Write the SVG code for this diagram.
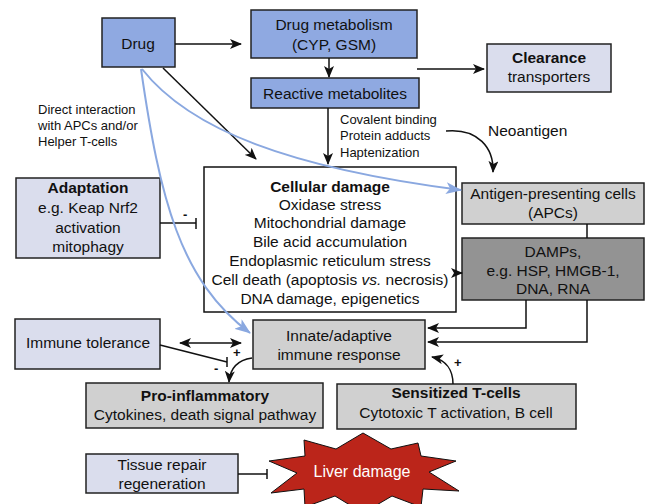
<svg xmlns="http://www.w3.org/2000/svg" width="648" height="504" viewBox="0 0 648 504">
<defs>
<style>
text{font-family:"Liberation Sans",Arial,sans-serif;fill:#111;}
.t{font-size:15.5px;text-anchor:middle;}
.s{font-size:13px;}
.b{font-weight:bold;}
.box{stroke:#222;stroke-width:1.5;}
.blue{fill:#8fa9e1;}
.lav{fill:#dadded;}
.gray{fill:#d0d0d0;}
.dark{fill:#939393;}
.ln{fill:none;stroke:#111;stroke-width:1.5;}
.bl{fill:none;stroke:#8aa8e0;stroke-width:2;}
</style>
<marker id="ah" markerUnits="userSpaceOnUse" markerWidth="12" markerHeight="10" refX="11" refY="5" orient="auto-start-reverse" viewBox="0 0 12 10">
<path d="M0,0 L12,5 L0,10 L3,5 Z" fill="#111"/>
</marker>
<marker id="bh" markerUnits="userSpaceOnUse" markerWidth="16" markerHeight="12" refX="15" refY="6" orient="auto" viewBox="0 0 16 12">
<path d="M0,0 L16,6 L0,12 L4,6 Z" fill="#8aa8e0"/>
</marker>
</defs>
<rect width="648" height="504" fill="#fff"/>

<g id="drug">
<rect class="box blue" x="102" y="18" width="73" height="49"/>
<text class="t" x="138" y="49">Drug</text>
</g>
<g id="metabolism">
<rect class="box blue" x="251" y="10" width="166" height="48"/>
<text class="t" x="334" y="30">Drug metabolism</text>
<text class="t" x="334" y="50">(CYP, GSM)</text>
</g>
<g id="reactive">
<rect class="box blue" x="251" y="78" width="168" height="30"/>
<text class="t" x="335" y="99">Reactive metabolites</text>
</g>
<g id="clearance">
<rect class="box lav" x="487" y="44" width="124" height="48"/>
<text class="t b" x="549" y="63">Clearance</text>
<text class="t" x="549" y="82">transporters</text>
</g>
<g id="cellular">
<rect x="204" y="167" width="252" height="145" fill="#fff" stroke="#111" stroke-width="1.5"/>
<text class="t b" x="330" y="192">Cellular damage</text>
<text class="t" x="330" y="210">Oxidase stress</text>
<text class="t" x="330" y="228">Mitochondrial damage</text>
<text class="t" x="330" y="247">Bile acid accumulation</text>
<text class="t" x="330" y="266">Endoplasmic reticulum stress</text>
<text class="t" x="330" y="285">Cell death (apoptosis <tspan font-style="italic">vs.</tspan> necrosis)</text>
<text class="t" x="330" y="304">DNA damage, epigenetics</text>
</g>
<g id="adaptation">
<rect class="box lav" x="16" y="178" width="144" height="80"/>
<text class="t b" x="88" y="193">Adaptation</text>
<text class="t" x="88" y="213">e.g. Keap Nrf2</text>
<text class="t" x="88" y="233">activation</text>
<text class="t" x="88" y="252">mitophagy</text>
</g>
<g id="apcs">
<rect class="box gray" x="462" y="183" width="182" height="41"/>
<text class="t" x="553" y="199">Antigen-presenting cells</text>
<text class="t" x="553" y="218">(APCs)</text>
</g>
<g id="damps">
<rect class="box dark" x="462" y="238" width="182" height="62"/>
<text class="t" x="553" y="257">DAMPs,</text>
<text class="t" x="553" y="276">e.g. HSP, HMGB-1,</text>
<text class="t" x="553" y="294">DNA, RNA</text>
</g>
<g id="innate">
<rect class="box gray" x="253" y="320" width="172" height="49"/>
<text class="t" x="339" y="341">Innate/adaptive</text>
<text class="t" x="339" y="360">immune response</text>
</g>
<g id="tolerance">
<rect class="box lav" x="15" y="319" width="145" height="50"/>
<text class="t" x="88" y="348">Immune tolerance</text>
</g>
<g id="proinflammatory">
<rect class="box gray" x="86" y="383" width="237" height="45"/>
<text class="t b" x="205" y="401">Pro-inflammatory</text>
<text class="t" x="205" y="420">Cytokines, death signal pathway</text>
</g>
<g id="sensitized">
<rect class="box gray" x="337" y="384" width="239" height="45"/>
<text class="t b" x="456" y="398">Sensitized T-cells</text>
<text class="t" x="456" y="418">Cytotoxic T activation, B cell</text>
</g>
<g id="tissue">
<rect class="box lav" x="86" y="454" width="152" height="39"/>
<text class="t" x="162" y="470">Tissue repair</text>
<text class="t" x="162" y="489">regeneration</text>
</g>
<g id="liver">
<polygon points="363,433 391,449 418,443 421,456 456,461 429,472 459,491 423,489 421,507 392,496 363,513 335,496 305,507 304,489 271,493 297,473 269,461 305,456 304,440 336,449" fill="#bb251a" stroke="#111" stroke-width="1"/>
<text class="t" x="362" y="477" style="fill:#fff;font-size:16px;">Liver damage</text>
</g>

<g id="connectors">
<line class="ln" x1="175" y1="44" x2="241" y2="44" marker-end="url(#ah)"/>
<line class="ln" x1="329" y1="58" x2="329" y2="77" marker-end="url(#ah)"/>
<line class="ln" x1="417" y1="69" x2="484" y2="69" marker-end="url(#ah)"/>
<line class="ln" x1="328" y1="108" x2="328" y2="164" marker-end="url(#ah)"/>
<line class="ln" x1="163" y1="68" x2="256" y2="159" marker-end="url(#ah)"/>
<path class="ln" d="M446,131 C478,128 494,148 493,172" marker-end="url(#ah)"/>
<line class="ln" x1="160" y1="223" x2="196" y2="223"/>
<line class="ln" x1="196" y1="218" x2="196" y2="229"/>
<line class="ln" x1="456" y1="273" x2="462" y2="273" marker-end="url(#ah)"/>
<line class="ln" x1="587" y1="224" x2="587" y2="238"/>
<path class="ln" d="M526,300 V328 H428" marker-end="url(#ah)"/>
<path class="ln" d="M587,300 V342 H428" marker-end="url(#ah)"/>
<line class="ln" x1="180" y1="343" x2="241" y2="343" marker-start="url(#ah)" marker-end="url(#ah)"/>
<line class="ln" x1="160" y1="345" x2="227" y2="362"/>
<line class="ln" x1="227" y1="357" x2="227" y2="367"/>
<path class="ln" d="M252,358 C238,360 230,368 229,382" marker-end="url(#ah)"/>
<path class="ln" d="M453,384 C453,370 446,360 432,357" marker-end="url(#ah)"/>
<line class="ln" x1="238" y1="474" x2="267" y2="474"/>
<line class="ln" x1="267" y1="469" x2="267" y2="479"/>
<path class="bl" d="M141,69 C160,200 180,280 250,333" marker-end="url(#bh)"/>
<path class="bl" d="M142,69 C190,130 290,168 461,190" marker-end="url(#bh)"/>
<text x="183" y="219" style="font-size:13px;font-weight:bold;">-</text>
<text x="233" y="357" style="font-size:13px;font-weight:bold;">+</text>
<text x="214" y="373" style="font-size:13px;font-weight:bold;">-</text>
<text x="454" y="367" style="font-size:13px;font-weight:bold;">+</text>
<text class="s" x="340" y="124">Covalent binding</text>
<text class="s" x="340" y="140">Protein adducts</text>
<text class="s" x="340" y="157">Haptenization</text>
<text x="488" y="136" style="font-size:15.5px;">Neoantigen</text>
<text class="s" x="38" y="114">Direct interaction</text>
<text class="s" x="38" y="130">with APCs and/or</text>
<text class="s" x="38" y="146">Helper T-cells</text>
</g>
</svg>
